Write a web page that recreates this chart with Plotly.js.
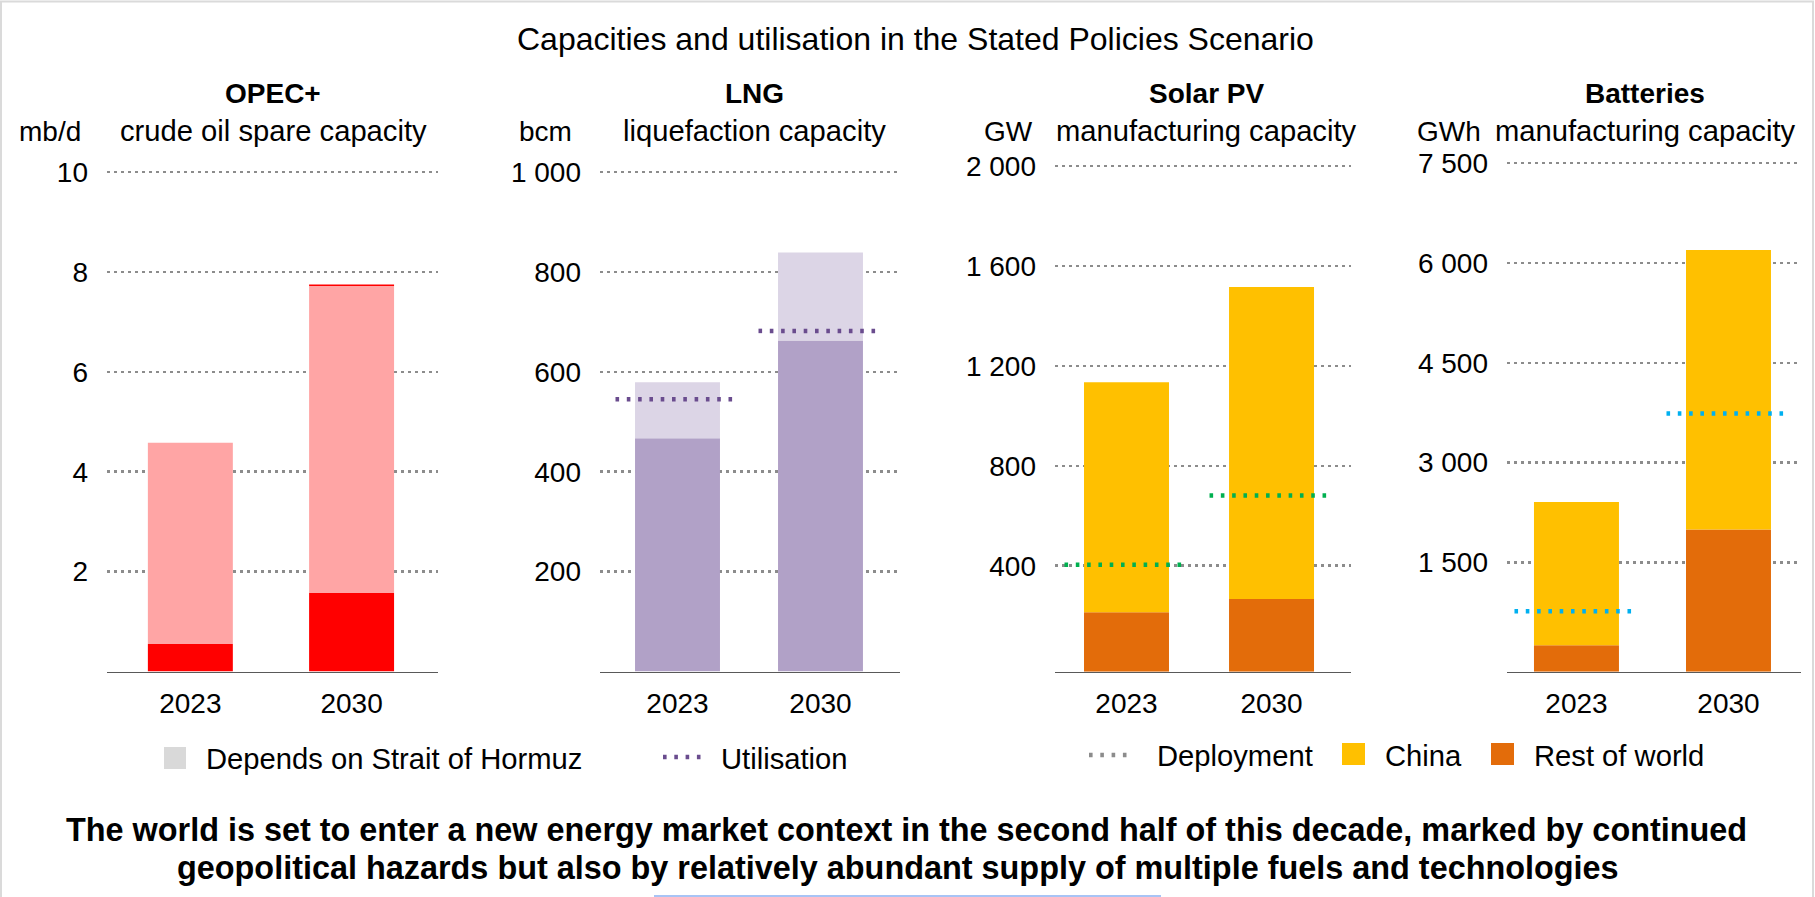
<!DOCTYPE html>
<html><head><meta charset="utf-8">
<script src="https://cdn.plot.ly/plotly-3.0.1.min.js"></script>
<style>html,body{margin:0;padding:0;background:#fff;}#chart{width:1815px;height:897px;}</style>
</head><body><div id="chart"></div>
<script>
// ---------- data ----------
const years = ['2023', '2030'];
// OPEC+ crude oil spare capacity (mb/d)
const opecNotHormuz = [0.55, 1.57];
const opecHormuz = [4.03, 6.15];
const opecOtherTop = [0, 0.03];
const opecTicks = [2, 4, 6, 8, 10];
// LNG liquefaction capacity (bcm)
const lngBase = [467, 663];
const lngHormuz = [112, 176];
const lngUtilisation = [545, 682];
const lngTicks = [200, 400, 600, 800, 1000];
// Solar PV manufacturing capacity (GW)
const solarRestOfWorld = [214, 267];
const solarChina = [921, 1249];
const solarDeployment = [404, 681];
const solarTicks = [400, 800, 1200, 1600, 2000];
// Batteries manufacturing capacity (GWh)
const batRestOfWorld = [258, 1995];
const batChina = [2152, 4200];
const batUtilisation = [769, 3740];
const batTicks = [1500, 3000, 4500, 6000, 7500];

// ---------- layout helpers ----------
const W = 1815, H = 897;
const px = x => x / W;
const py = y => 1 - y / H;
const FONT = 'Liberation Sans, Arial, sans-serif';
const DOTS = '3.6px,7.7px';

const C = {
  red: '#FF0000', pink: '#FFA5A5',
  lngDark: '#B1A1C7', lngLight: '#DCD5E6', purple: '#6A4C8E',
  china: '#FFC000', row: '#E36C0A', green: '#00B050', cyan: '#00B0F0',
  grid: '#8C8C8C', axis: '#595959', legendGrey: '#D9D9D9'
};

const panels = [
  {xd: [107, 438], zero: 671.5, ppu: 49.94, rmin: 0, rmax: 10.1, xr: [-0.517, 1.536], bw: 0.527, ticks: opecTicks},
  {xd: [600, 900], zero: 671.5, ppu: 0.4994, rmin: 0, rmax: 1010, xr: [-0.542, 1.556], bw: 0.594, ticks: lngTicks},
  {xd: [1055, 1351], zero: 665.6, ppu: 0.2497, rmin: -24.6, rmax: 2020, xr: [-0.493, 1.548], bw: 0.586, ticks: solarTicks},
  {xd: [1507, 1801], zero: 662.4, ppu: 0.06658, rmin: -141, rmax: 7560, xr: [-0.457, 1.477], bw: 0.559, ticks: batTicks}
];

const layout = {
  width: W, height: H, autosize: false,
  margin: {l: 0, r: 0, t: 0, b: 0},
  paper_bgcolor: '#fff', plot_bgcolor: 'rgba(0,0,0,0)',
  separators: '. ',
  barmode: 'overlay',
  showlegend: false,
  font: {family: FONT, size: 28, color: '#000'},
  annotations: [], shapes: []
};

panels.forEach((p, i) => {
  const n = i === 0 ? '' : String(i + 1);
  const bottomPx = p.zero - p.rmin * p.ppu;
  const topPx = p.zero - p.rmax * p.ppu;
  p.xa = 'x' + n; p.ya = 'y' + n;
  p.pxPerCat = (p.xd[1] - p.xd[0]) / (p.xr[1] - p.xr[0]);
  layout['xaxis' + n] = {
    domain: [px(p.xd[0]), px(p.xd[1])], anchor: p.ya, range: p.xr, type: 'linear',
    tickmode: 'array', tickvals: [0, 1], ticktext: years,
    showgrid: false, zeroline: false, showline: true, linecolor: C.axis, linewidth: 1.5,
    ticks: '', tickfont: {size: 28, color: '#000'}, ticklabelstandoff: 6, fixedrange: true
  };
  layout['yaxis' + n] = {
    domain: [py(bottomPx), py(topPx)], anchor: p.xa, range: [p.rmin, p.rmax],
    tickmode: 'array', tickvals: p.ticks, separatethousands: true,
    showgrid: true, gridcolor: C.grid, gridwidth: 2.5, griddash: '2.5px,4.5px',
    zeroline: false, showline: false, ticks: '',
    tickfont: {size: 28, color: '#000'}, ticklabelstandoff: 18, fixedrange: true
  };
});

const traces = [];
function stackBars(p, bottom, tops, colors, names) {
  traces.push({type: 'bar', x: [0, 1], y: bottom.map(v => v - p.rmin), base: bottom.map(() => p.rmin),
    width: p.bw, marker: {color: colors[0], line: {width: 0}}, xaxis: p.xa, yaxis: p.ya, name: names[0], hoverinfo: 'skip'});
  let cum = bottom.slice();
  tops.forEach((t, k) => {
    traces.push({type: 'bar', x: [0, 1], y: t, base: cum.slice(), width: p.bw,
      marker: {color: colors[k + 1], line: {width: 0}}, xaxis: p.xa, yaxis: p.ya, name: names[k + 1], hoverinfo: 'skip'});
    cum = cum.map((c, j) => c + t[j]);
  });
}
function dotLine(p, vals, color, name) {
  const h = 62 / p.pxPerCat;
  traces.push({type: 'scatter', mode: 'lines', name: name,
    x: vals.flatMap((v, i) => [i - h, i + h, null]),
    y: vals.flatMap(v => [v, v, null]),
    line: {color: color, width: 4.5, dash: DOTS},
    xaxis: p.xa, yaxis: p.ya, hoverinfo: 'skip', cliponaxis: false});
}

stackBars(panels[0], opecNotHormuz, [opecHormuz, opecOtherTop], [C.red, C.pink, C.red], ['Not dependent', 'Depends on Strait of Hormuz', 'Other']);
stackBars(panels[1], lngBase, [lngHormuz], [C.lngDark, C.lngLight], ['Capacity', 'Depends on Strait of Hormuz']);
dotLine(panels[1], lngUtilisation, C.purple, 'Utilisation');
stackBars(panels[2], solarRestOfWorld, [solarChina], [C.row, C.china], ['Rest of world', 'China']);
dotLine(panels[2], solarDeployment, C.green, 'Deployment');
stackBars(panels[3], batRestOfWorld, [batChina], [C.row, C.china], ['Rest of world', 'China']);
dotLine(panels[3], batUtilisation, C.cyan, 'Utilisation');

// ---------- text ----------
function ann(text, x, y, opts) {
  layout.annotations.push(Object.assign({
    text: text, x: px(x), y: py(y), xref: 'paper', yref: 'paper',
    xanchor: 'center', yanchor: 'middle', showarrow: false,
    font: {family: FONT, size: 28, color: '#000'}
  }, opts || {}));
}
const F29 = {font: {family: FONT, size: 29.2, color: '#000'}};
ann('Capacities and utilisation in the Stated Policies Scenario', 915, 39, {font: {family: FONT, size: 32, color: '#000'}});
const heads = [
  {t: 'OPEC+', s: 'crude oil spare capacity', u: 'mb/d', cx: 273, ux: 83},
  {t: 'LNG', s: 'liquefaction capacity', u: 'bcm', cx: 754, ux: 574},
  {t: 'Solar PV', s: 'manufacturing capacity', u: 'GW', cx: 1206, ux: 1035},
  {t: 'Batteries', s: 'manufacturing capacity', u: 'GWh', cx: 1645, ux: 1483}
];
heads.forEach(h => {
  ann('<b>' + h.t + '</b>', h.cx, 93);
  ann(h.s, h.cx, 131, F29);
  ann(h.u, h.ux, 131, {xanchor: 'right'});
});

// legend (drawn)
ann('Depends on Strait of Hormuz', 204, 759, Object.assign({xanchor: 'left'}, F29));
ann('Utilisation', 719, 759, Object.assign({xanchor: 'left'}, F29));
ann('Deployment', 1155, 756, Object.assign({xanchor: 'left'}, F29));
ann('China', 1383, 756, Object.assign({xanchor: 'left'}, F29));
ann('Rest of world', 1532, 756, Object.assign({xanchor: 'left'}, F29));
function rectPx(x0, y0, x1, y1, color) {
  layout.shapes.push({type: 'rect', xref: 'paper', yref: 'paper', x0: px(x0), x1: px(x1), y0: py(y0), y1: py(y1),
    fillcolor: color, line: {width: 0}});
}
function dotPx(x0, x1, y, color) {
  layout.shapes.push({type: 'line', xref: 'paper', yref: 'paper', x0: px(x0), x1: px(x1), y0: py(y), y1: py(y),
    line: {color: color, width: 4.5, dash: DOTS}});
}
rectPx(164, 747, 186, 769, C.legendGrey);
dotPx(663, 706, 757, C.purple);
dotPx(1089, 1130, 755, C.grid);
rectPx(1342, 743, 1365, 765, C.china);
rectPx(1491, 743, 1514, 765, C.row);

// footnote
ann('<b>The world is set to enter a new energy market context in the second half of this decade, marked by continued</b>', 906, 830, {font: {family: FONT, size: 32.4, color: '#000'}});
ann('<b>geopolitical hazards but also by relatively abundant supply of multiple fuels and technologies</b>', 898, 868, {font: {family: FONT, size: 32.4, color: '#000'}});

// frame
layout.shapes.push({type: 'rect', xref: 'paper', yref: 'paper', x0: px(1), x1: px(1813), y0: py(899), y1: py(1.5),
  line: {color: '#DADADA', width: 2}, fillcolor: 'rgba(0,0,0,0)', layer: 'below'});
layout.shapes.push({type: 'line', xref: 'paper', yref: 'paper', x0: px(654), x1: px(1161), y0: py(896), y1: py(896),
  line: {color: '#A8C4F5', width: 2}});

Plotly.newPlot('chart', traces, layout, {staticPlot: true, displayModeBar: false});
</script></body></html>
